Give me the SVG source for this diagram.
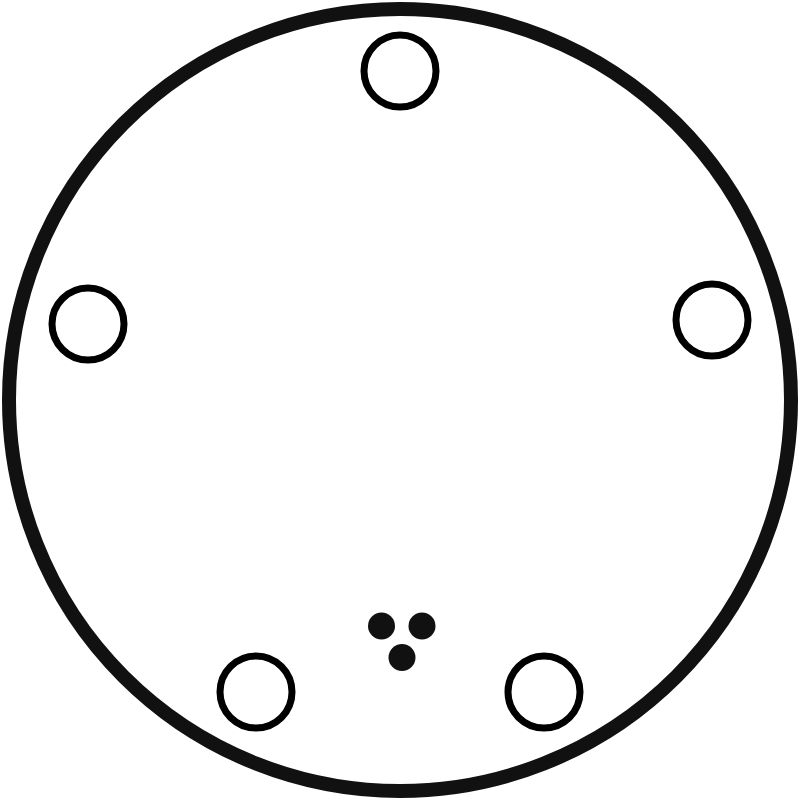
<svg xmlns="http://www.w3.org/2000/svg" width="800" height="800" viewBox="0 0 800 800">
<style>
.hole{fill:none;stroke:#000;stroke-width:7}
.dot{fill:#111}
</style>
<rect width="800" height="800" fill="#fff"/>
<g id="plate"><circle cx="400" cy="400" r="391" fill="none" stroke="#111" stroke-width="14"/></g>
<g id="hole-top"><circle class="hole" cx="400" cy="71" r="36"/></g>
<g id="hole-left"><circle class="hole" cx="88" cy="324" r="36"/></g>
<g id="hole-right"><circle class="hole" cx="712" cy="320" r="36"/></g>
<g id="hole-bottom-left"><circle class="hole" cx="256" cy="692" r="36"/></g>
<g id="hole-bottom-right"><circle class="hole" cx="544" cy="692" r="36"/></g>
<g id="dots">
<circle class="dot" cx="381.5" cy="626" r="13.5"/>
<circle class="dot" cx="422" cy="626" r="13.5"/>
<circle class="dot" cx="402" cy="657.5" r="13.5"/>
</g>
</svg>
